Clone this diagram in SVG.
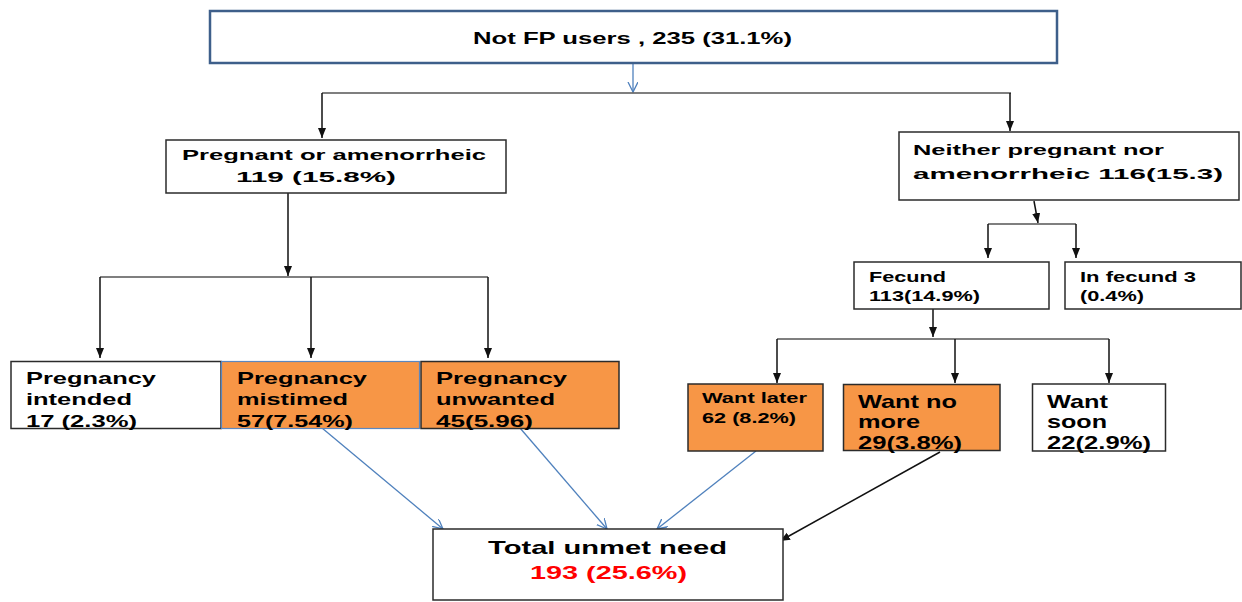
<svg xmlns="http://www.w3.org/2000/svg" width="1242" height="602" viewBox="0 0 1242 602">
<style>
.bg{fill:#ffffff}
.box{fill:#ffffff;stroke:#2b2b2b;stroke-width:1.5}
.org{fill:#F79646;stroke:#2b2b2b;stroke-width:1.5}
.orgb{fill:#F79646;stroke:#5B87C0;stroke-width:1.2}
.top{fill:#ffffff;stroke:#3E5F8A;stroke-width:2.5}
text{font-family:"Liberation Sans",Arial,sans-serif;font-weight:bold;fill:#000000}
.red{fill:#FF0000}
.k{stroke:#111111;stroke-width:1.5;fill:none}
.h{stroke:#555555;stroke-width:1.5;fill:none}
.b{stroke:#4F81BD;stroke-width:1.3;fill:none}
</style>
<defs>
<marker id="ak" markerUnits="userSpaceOnUse" markerWidth="10" markerHeight="10" refX="10" refY="4" orient="auto">
<path d="M0,0 L10,4 L0,8 z" fill="#111111"/>
</marker>
<marker id="ab" markerUnits="userSpaceOnUse" markerWidth="12" markerHeight="12" refX="10" refY="5" orient="auto">
<path d="M0,0 L10,5 L0,10" fill="none" stroke="#4F81BD" stroke-width="1.3"/>
</marker>
</defs>
<rect class="bg" x="0" y="0" width="1242" height="602"/>

<g id="connectors">
<line class="b" x1="633" y1="63" x2="633" y2="92" marker-end="url(#ab)"/>
<line class="h" x1="322" y1="93" x2="1011" y2="93"/>
<line class="k" x1="322" y1="93" x2="322" y2="138" marker-end="url(#ak)"/>
<line class="k" x1="1010" y1="93" x2="1010" y2="131" marker-end="url(#ak)"/>
<line class="k" x1="288" y1="193" x2="288" y2="276" marker-end="url(#ak)"/>
<line class="h" x1="100" y1="277" x2="488" y2="277"/>
<line class="k" x1="100" y1="277" x2="100" y2="358" marker-end="url(#ak)"/>
<line class="k" x1="311" y1="277" x2="311" y2="358" marker-end="url(#ak)"/>
<line class="k" x1="488" y1="277" x2="488" y2="358" marker-end="url(#ak)"/>
<line class="k" x1="1034" y1="201" x2="1038" y2="223" marker-end="url(#ak)"/>
<line class="h" x1="988" y1="224" x2="1076" y2="224"/>
<line class="k" x1="988" y1="224" x2="988" y2="258" marker-end="url(#ak)"/>
<line class="k" x1="1076" y1="224" x2="1076" y2="258" marker-end="url(#ak)"/>
<line class="k" x1="933" y1="309" x2="933" y2="337" marker-end="url(#ak)"/>
<line class="h" x1="777" y1="339" x2="1109" y2="339"/>
<line class="k" x1="777" y1="339" x2="777" y2="383" marker-end="url(#ak)"/>
<line class="k" x1="955" y1="339" x2="955" y2="383" marker-end="url(#ak)"/>
<line class="k" x1="1109" y1="339" x2="1109" y2="383" marker-end="url(#ak)"/>
<line class="b" x1="322" y1="428" x2="443" y2="529" marker-end="url(#ab)"/>
<line class="b" x1="520" y1="428" x2="607" y2="529" marker-end="url(#ab)"/>
<line class="b" x1="756" y1="451" x2="657" y2="529" marker-end="url(#ab)"/>
<line class="k" x1="940" y1="452" x2="780" y2="541" marker-end="url(#ak)"/>
</g>

<g id="node-notfp">
<rect class="top" x="210" y="11" width="847" height="52"/>
<text x="473" y="44" font-size="17" textLength="319" lengthAdjust="spacingAndGlyphs">Not FP users , 235 (31.1%)</text>
</g>

<g id="node-pregnant">
<rect class="box" x="166" y="140" width="340" height="53"/>
<text x="182" y="160" font-size="15" textLength="304" lengthAdjust="spacingAndGlyphs">Pregnant or amenorrheic</text>
<text x="236" y="182" font-size="15" textLength="160" lengthAdjust="spacingAndGlyphs">119 (15.8%)</text>
</g>

<g id="node-neither">
<rect class="box" x="899" y="132" width="340" height="68"/>
<text x="913" y="155" font-size="15.5" textLength="251" lengthAdjust="spacingAndGlyphs">Neither pregnant nor</text>
<text x="913" y="179" font-size="15.5" textLength="310" lengthAdjust="spacingAndGlyphs">amenorrheic  116(15.3)</text>
</g>

<g id="node-intended">
<rect class="box" x="11" y="361.5" width="210" height="67"/>
<text x="26" y="384" font-size="17" textLength="130" lengthAdjust="spacingAndGlyphs">Pregnancy</text>
<text x="26" y="405" font-size="17" textLength="106" lengthAdjust="spacingAndGlyphs">intended</text>
<text x="26" y="427" font-size="17" textLength="111" lengthAdjust="spacingAndGlyphs">17 (2.3%)</text>
</g>

<g id="node-mistimed">
<rect class="orgb" x="221.5" y="361.5" width="198" height="67"/>
<text x="237" y="384" font-size="17" textLength="130" lengthAdjust="spacingAndGlyphs">Pregnancy</text>
<text x="237" y="405" font-size="17" textLength="111" lengthAdjust="spacingAndGlyphs">mistimed</text>
<text x="237" y="427" font-size="17" textLength="116" lengthAdjust="spacingAndGlyphs">57(7.54%)</text>
</g>

<g id="node-unwanted">
<rect class="org" x="421" y="361.5" width="198" height="67"/>
<text x="436" y="384" font-size="17" textLength="131" lengthAdjust="spacingAndGlyphs">Pregnancy</text>
<text x="436" y="405" font-size="17" textLength="119" lengthAdjust="spacingAndGlyphs">unwanted</text>
<text x="436" y="427" font-size="17" textLength="97" lengthAdjust="spacingAndGlyphs">45(5.96)</text>
</g>

<g id="node-fecund">
<rect class="box" x="854" y="262" width="195" height="47"/>
<text x="869" y="282" font-size="15" textLength="77" lengthAdjust="spacingAndGlyphs">Fecund</text>
<text x="869" y="301" font-size="15" textLength="111" lengthAdjust="spacingAndGlyphs">113(14.9%)</text>
</g>

<g id="node-infecund">
<rect class="box" x="1065" y="262" width="176" height="47"/>
<text x="1080" y="282" font-size="15" textLength="116" lengthAdjust="spacingAndGlyphs">In fecund 3</text>
<text x="1080" y="301" font-size="15" textLength="64" lengthAdjust="spacingAndGlyphs">(0.4%)</text>
</g>

<g id="node-wantlater">
<rect class="org" x="688" y="384" width="135" height="67"/>
<text x="702" y="403" font-size="14.5" textLength="105" lengthAdjust="spacingAndGlyphs">Want later</text>
<text x="702" y="423" font-size="14.5" textLength="94" lengthAdjust="spacingAndGlyphs">62 (8.2%)</text>
</g>

<g id="node-wantnomore">
<rect class="org" x="843.5" y="384.5" width="156.5" height="66"/>
<text x="858" y="408" font-size="19" textLength="99" lengthAdjust="spacingAndGlyphs">Want no</text>
<text x="858" y="428" font-size="19" textLength="62" lengthAdjust="spacingAndGlyphs">more</text>
<text x="858" y="449" font-size="19" textLength="104" lengthAdjust="spacingAndGlyphs">29(3.8%)</text>
</g>

<g id="node-wantsoon">
<rect class="box" x="1032.5" y="384" width="133" height="67"/>
<text x="1047" y="408" font-size="19" textLength="61" lengthAdjust="spacingAndGlyphs">Want</text>
<text x="1047" y="428" font-size="19" textLength="60" lengthAdjust="spacingAndGlyphs">soon</text>
<text x="1047" y="449" font-size="19" textLength="104" lengthAdjust="spacingAndGlyphs">22(2.9%)</text>
</g>

<g id="node-total">
<rect class="box" x="433" y="529" width="350" height="71"/>
<text x="488" y="554" font-size="19" textLength="239" lengthAdjust="spacingAndGlyphs">Total unmet need</text>
<text class="red" x="530" y="579" font-size="19" textLength="157" lengthAdjust="spacingAndGlyphs">193 (25.6%)</text>
</g>
</svg>
